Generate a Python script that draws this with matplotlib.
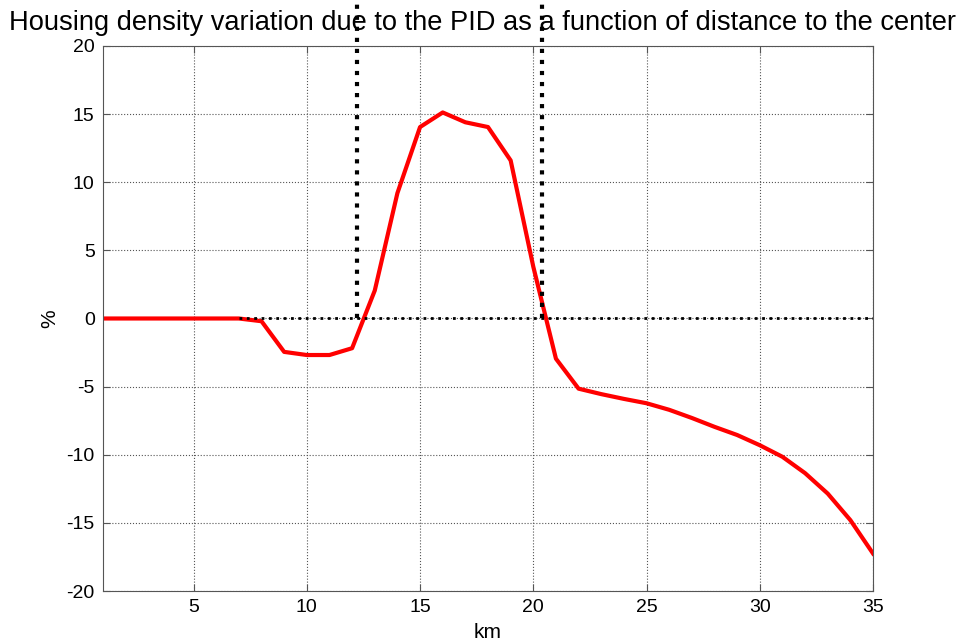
import numpy as np
import matplotlib.pyplot as plt

plt.rcParams['font.family'] = ['Liberation Sans', 'DejaVu Sans']
plt.rcParams['axes.unicode_minus'] = False

# distance to the center (km) and housing density variation (%)
km = list(range(1, 36))
variation = [0, 0, 0, 0, 0, 0, 0, -0.2, -2.45, -2.68, -2.68, -2.18, 2.05,
             9.2, 14.05, 15.12, 14.4, 14.05, 11.6, 3.8, -2.95, -5.15, -5.55,
             -5.9, -6.22, -6.7, -7.3, -7.95, -8.55, -9.3, -10.15, -11.35,
             -12.85, -14.8, -17.25]

# PID boundaries (km)
pid_bounds = [12.2, 20.4]

fig = plt.figure(figsize=(9.65, 6.42), dpi=100)
ax = fig.add_axes([0.1067, 0.0794, 0.798, 0.849])

ax.plot(km, variation, color='red', lw=3)
ax.plot([7, 35], [0, 0], color='black', ls=':', lw=2)
for b in pid_bounds:
    ax.plot([b, b], [0, 25], color='black', ls=':', lw=3, clip_on=False)

ax.set_xlim(1, 35)
ax.set_ylim(-20, 20)
ax.set_xticks(np.arange(5, 36, 5))
ax.set_yticks(np.arange(-20, 21, 5))
ax.grid(True, color='#555555', ls=':', lw=0.8)
for s in ax.spines.values():
    s.set_color('#555555')
ax.tick_params(direction='in', top=True, right=True, labelsize=14, length=5,
               color='#555555', pad=6)

# title centred on the figure, as in the original
fig.text(0.4995, 1 - 30 / 642,
         'Housing density variation due to the PID as a function of distance to the center',
         fontsize=19.6, ha='center', va='baseline')
ax.set_xlabel('km', fontsize=15, labelpad=5)
ax.set_ylabel('%', fontsize=15, labelpad=5)

fig.savefig('out.png', dpi=100)
